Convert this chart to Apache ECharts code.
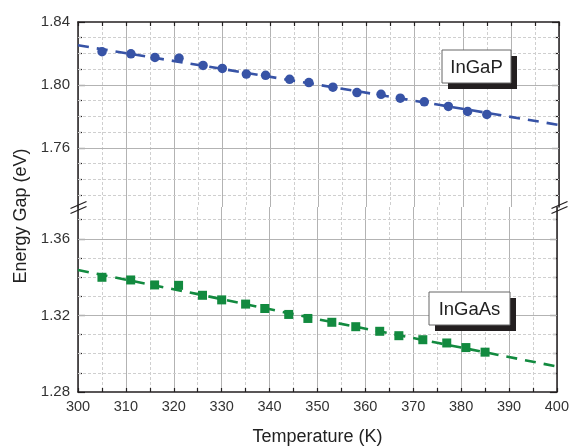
<!DOCTYPE html>
<html>
<head>
<meta charset="utf-8">
<script src="https://cdn.jsdelivr.net/npm/echarts@6/dist/echarts.min.js"></script>
<style>
    html, body { margin: 0; padding: 0; background: #fff; }
    #chart { width: 572px; height: 447px; }
</style>
</head>
<body>
<div id="chart"></div>
<script>
// measured points
const temps = [305, 311, 316, 321, 326, 330, 335, 339, 344, 348, 353, 358, 363, 367, 372, 377, 381, 385];
const ingapGap = [1.8211, 1.8198, 1.8175, 1.8170, 1.8124, 1.8105, 1.8069, 1.8061, 1.8036, 1.8015, 1.7986, 1.7952, 1.7941, 1.7916, 1.7893, 1.7864, 1.7832, 1.7813];
const ingaasGap = [1.3399, 1.3385, 1.3359, 1.3357, 1.3305, 1.3281, 1.3259, 1.3236, 1.3205, 1.3184, 1.3164, 1.3141, 1.3117, 1.3094, 1.3073, 1.3056, 1.3032, 1.3008];

// fitted curves (dashed)
const fitTemps = [300, 325, 350, 375, 400];
const ingapFit = [1.8252, 1.8127, 1.8001, 1.7874, 1.7746];
const ingaasFit = [1.3437, 1.3311, 1.3180, 1.3057, 1.2933];

// y ticks for the two halves of the broken axis
const topRange = [1.7225, 1.84];
const topMajor = [1.76, 1.80, 1.84];
const topMinor = [1.73, 1.74, 1.75, 1.77, 1.78, 1.79, 1.81, 1.82, 1.83];
const bottomRange = [1.28, 1.3766];
const bottomMajor = [1.28, 1.32, 1.36];
const bottomMinor = [1.29, 1.30, 1.31, 1.33, 1.34, 1.35, 1.37];

const font = "'Liberation Sans', Arial, sans-serif";
const blue = '#3753a6';
const green = '#128a3f';
const majorGrid = '#b3b3b3';
const minorGrid = '#cfcfcf';
const frame = '#231f20';

const chart = echarts.init(document.getElementById('chart'));

const pairs = (xs, ys) => xs.map((x, i) => [x, ys[i]]);

const makeY = (grid, range, position, values, len, labels) => ({
    type: 'value',
    gridIndex: grid,
    position: position,
    min: range[0],
    max: range[1],
    axisLine: { show: len > 5, lineStyle: { color: frame, width: 1.5 } },
    axisTick: { show: true, inside: true, length: len, customValues: values, lineStyle: { color: frame, width: 1.2 } },
    axisLabel: {
        show: labels,
        customValues: values,
        margin: 8,
        color: '#333',
        fontSize: 15,
        fontFamily: font,
        formatter: v => v.toFixed(2)
    },
    splitLine: { show: false }
});

const makeX = (grid, position, labels) => ({
    type: 'value',
    gridIndex: grid,
    position: position,
    min: 300,
    max: 400,
    interval: 10,
    name: labels ? 'Temperature (K)' : '',
    nameLocation: 'middle',
    nameGap: 36,
    nameTextStyle: { color: '#222', fontSize: 18, fontFamily: font },
    axisLine: { show: true, lineStyle: { color: frame, width: 1.5 } },
    axisTick: { show: true, inside: true, length: 4, lineStyle: { color: frame, width: 1.2 } },
    minorTick: { show: true, splitNumber: 2, length: 4, lineStyle: { color: frame, width: 1.2 } },
    axisLabel: { show: labels, margin: 7, color: '#333', fontSize: 14.5, fontFamily: font },
    splitLine: { show: true, lineStyle: { color: majorGrid, width: 1 } },
    minorSplitLine: { show: true, lineStyle: { color: minorGrid, width: 1, type: [3, 2] } }
});

const gridLines = (major, minor, range) => [
    ...major.filter(v => v > range[0] && v < range[1]).map(v => ({
        yAxis: v, lineStyle: { color: majorGrid, width: 1, type: 'solid' }
    })),
    ...minor.map(v => ({
        yAxis: v, lineStyle: { color: minorGrid, width: 1, type: [3, 2] }
    }))
];

const guideSeries = (xi, yi, data) => ({
    type: 'line',
    xAxisIndex: xi,
    yAxisIndex: yi,
    data: [],
    z: 1,
    silent: true,
    markLine: { z: 1, silent: true, symbol: ['none', 'none'], label: { show: false }, animation: false, data: data }
});

const breakMark = (x, y) => [0, 5].map(d => ({
    type: 'line',
    z: 100,
    shape: { x1: x - 8, y1: y + d + 3.5, x2: x + 8, y2: y + d - 3.5 },
    style: { stroke: frame, lineWidth: 1.3 }
}));

const labelBox = (x, y, w, h, text) => [
    { type: 'rect', z: 100, shape: { x: x + 6, y: y + 6, width: w, height: h }, style: { fill: frame } },
    { type: 'rect', z: 101, shape: { x: x, y: y, width: w, height: h }, style: { fill: '#fff', stroke: '#666', lineWidth: 1 } },
    { type: 'text', z: 102, x: x + w / 2, y: y + h / 2 + 1, style: { text: text, fill: '#222', font: '18.5px ' + font, textAlign: 'center', textVerticalAlign: 'middle' } }
];

chart.setOption({
    animation: false,
    grid: [
        { left: 78, right: 13, top: 22, height: 185 },
        { left: 78, right: 13, top: 207, height: 186 }
    ],
    xAxis: [makeX(0, 'top', false), makeX(1, 'bottom', true)],
    yAxis: [
        makeY(0, topRange, 'left', topMajor, 7, true),
        makeY(0, topRange, 'left', topMinor, 4, false),
        makeY(0, topRange, 'right', topMajor, 7, false),
        makeY(0, topRange, 'right', topMinor, 4, false),
        makeY(1, bottomRange, 'left', bottomMajor, 7, true),
        makeY(1, bottomRange, 'left', bottomMinor, 4, false),
        makeY(1, bottomRange, 'right', bottomMajor, 7, false),
        makeY(1, bottomRange, 'right', bottomMinor, 4, false)
    ],
    series: [
        guideSeries(0, 0, gridLines(topMajor, topMinor, topRange)),
        guideSeries(1, 4, gridLines(bottomMajor, bottomMinor, bottomRange)),
        {
            name: 'InGaP fit',
            type: 'line',
            xAxisIndex: 0,
            yAxisIndex: 0,
            data: pairs(fitTemps, ingapFit),
            showSymbol: false,
            z: 2,
            lineStyle: { color: blue, width: 2.6, type: [11, 8] }
        },
        {
            name: 'InGaP',
            type: 'scatter',
            xAxisIndex: 0,
            yAxisIndex: 0,
            data: pairs(temps, ingapGap),
            symbol: 'circle',
            symbolSize: 9.5,
            z: 3,
            itemStyle: { color: blue, opacity: 1 }
        },
        {
            name: 'InGaAs fit',
            type: 'line',
            xAxisIndex: 1,
            yAxisIndex: 4,
            data: pairs(fitTemps, ingaasFit),
            showSymbol: false,
            z: 2,
            lineStyle: { color: green, width: 2.6, type: [11, 8] }
        },
        {
            name: 'InGaAs',
            type: 'scatter',
            xAxisIndex: 1,
            yAxisIndex: 4,
            data: pairs(temps, ingaasGap),
            symbol: 'rect',
            symbolSize: 9,
            z: 3,
            itemStyle: { color: green, opacity: 1 }
        }
    ],
    graphic: [
        {
            type: 'text',
            x: 21,
            y: 216,
            rotation: Math.PI / 2,
            style: { text: 'Energy Gap (eV)', fill: '#222', font: '18px ' + font, textAlign: 'center', textVerticalAlign: 'middle' }
        },
        ...breakMark(78.5, 205),
        ...breakMark(559.5, 205),
        ...labelBox(442, 50, 69, 33, 'InGaP'),
        ...labelBox(429, 292, 81, 33, 'InGaAs')
    ]
});
</script>
</body>
</html>
